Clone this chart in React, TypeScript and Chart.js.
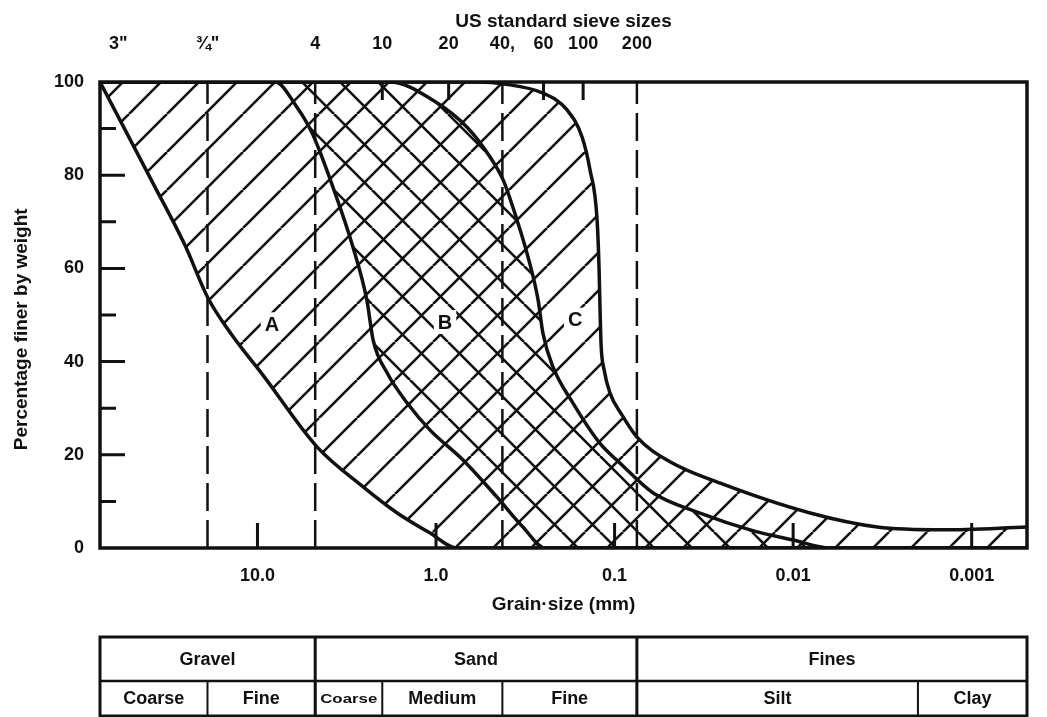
import { useEffect, useRef } from 'react';
import { Chart, registerables } from 'chart.js';

Chart.register(...registerables);

const FONT = '"Liberation Sans", Arial, Helvetica, sans-serif';
const INK = '#111111';

// grain size axis range (mm): left edge = 3 in sieve, right edge
const SIZE_MAX = 76.2;
const SIZE_MIN = 0.00049;

// bottom axis ticks
const gradeTickValues = [0.001, 0.01, 0.1, 1, 10];
const gradeTickLabels = ['0.001', '0.01', '0.1', '1.0', '10.0'];

// top axis: US standard sieve sizes (mm)
const sieveTickValues = [SIZE_MIN, 0.075, 0.15, 0.25, 0.425, 0.85, 2.0, 4.75, 19.05, 76.2];
const sieveTickLabels = ['', '200', '100', '60', '40,', '20', '10', '4', '¾"', '\u20023"'];
const sieveMinorMarks = [0.15, 0.25, 0.85, 2.0];
const dashedSieveSizes = [19.05, 4.75, 0.425, 0.075];

// percent axis
const percentMajorTicks = [20, 40, 60, 80];
const percentMinorTicks = [10, 30, 50, 70, 90];

// band A, coarse boundary
const curveALeftSize = [76.2, 38.5, 25.5, 18.9, 13.9, 9.32, 4.64, 2.56, 1.65, 1.08, 0.763, SIZE_MIN];
const curveALeftPct = [100, 78.3, 65.0, 53.6, 45.7, 37.1, 21.7, 13.1, 7.5, 3.2, 0, 0];

// band B, coarse boundary
const curveBLeftSize = [76.2, 7.98, 6.01, 4.95, 3.68, 2.92, 2.44, 2.25, 1.88, 1.45, 1.08, 0.706, 0.455, 0.326, 0.245, SIZE_MIN];
const curveBLeftPct = [100, 100, 94.6, 89.1, 76.2, 64.6, 53.2, 44.6, 37.6, 31.1, 25.3, 18.9, 10.9, 4.5, 0, 0];

// band B, fine boundary
const curveBRightSize = [76.2, 1.81, 1.04, 0.67, 0.498, 0.421, 0.352, 0.305, 0.268, 0.252, 0.221, 0.171, 0.121, 0.0931, 0.0608, 0.0332, 0.0174, 0.01, 0.0062, SIZE_MIN];
const curveBRightPct = [100, 100, 96.1, 90.3, 83.9, 79.0, 70.4, 62.4, 53.2, 46.1, 38.8, 31.1, 22.5, 18.2, 11.8, 7.5, 3.9, 1.7, 0, 0];

// band C, fine boundary
const curveCRightSize = [76.2, 0.567, 0.421, 0.2516, 0.1845, 0.1521, 0.1372, 0.1253, 0.1221, 0.1206, 0.119, 0.1144, 0.1062, 0.0908, 0.0749, 0.0489, 0.0256, 0.00803, 0.00338, 0.00144, SIZE_MIN];
const curveCRightPct = [100, 100, 99.6, 97.6, 94.0, 88.2, 81.1, 70.4, 59.7, 51.1, 43.6, 38.2, 33.3, 28.5, 23.8, 18.5, 13.9, 7.5, 4.5, 3.9, 4.5];

// band labels
const bandLabels = ['A', 'B', 'C'];
const bandLabelSize = [8.3, 0.89, 0.166];
const bandLabelPct = [48, 48.5, 49];

// classification table
const soilGroups = ['Gravel', 'Sand', 'Fines'];
const soilGroupBounds = [SIZE_MAX, 4.75, 0.075, SIZE_MIN];
const soilClasses = ['Coarse', 'Fine', 'Coarse', 'Medium', 'Fine', 'Silt', 'Clay'];
const soilClassBounds = [SIZE_MAX, 19.05, 4.75, 2.0, 0.425, 0.075, 0.002, SIZE_MIN];

const TABLE_TOP = 637;
const TABLE_MID = 681;
const TABLE_BOTTOM = 716;

const toPoints = (xs: number[], ys: number[]) => xs.map((x, i) => ({ x, y: ys[i] }));

function makeHatch(ctx: CanvasRenderingContext2D, size: number, dir: '/' | '\\', offset: number, lw: number) {
  const c = document.createElement('canvas');
  c.width = size;
  c.height = size;
  const g = c.getContext('2d')!;
  g.strokeStyle = INK;
  g.lineWidth = lw;
  g.beginPath();
  for (const k of [-1, 0, 1]) {
    if (dir === '/') {
      g.moveTo(k * size, size);
      g.lineTo(k * size + size, 0);
    } else {
      g.moveTo(k * size, 0);
      g.lineTo(k * size + size, size);
    }
  }
  g.stroke();
  const p = ctx.createPattern(c, 'repeat')!;
  p.setTransform(new DOMMatrix().translateSelf(offset, 0));
  return p;
}

const decorPlugin = {
  id: 'decor',
  afterDatasetsDraw(chart: any) {
    const { ctx, chartArea: ca, scales } = chart;
    const xs = scales.x;
    const ys = scales.y;
    ctx.save();
    // band labels with white backing
    ctx.font = `bold 20px ${FONT}`;
    ctx.textAlign = 'center';
    ctx.textBaseline = 'middle';
    bandLabels.forEach((t, i) => {
      const px = xs.getPixelForValue(bandLabelSize[i]);
      const py = ys.getPixelForValue(bandLabelPct[i]);
      const w = ctx.measureText(t).width + 8;
      ctx.fillStyle = '#fff';
      ctx.fillRect(px - w / 2, py - 12, w, 24);
      ctx.fillStyle = INK;
      ctx.fillText(t, px, py + 1);
    });
    // frame
    ctx.strokeStyle = INK;
    ctx.lineWidth = 3.5;
    ctx.strokeRect(ca.left, ca.top, ca.right - ca.left, ca.bottom - ca.top);
    // inward ticks
    ctx.lineWidth = 3;
    ctx.beginPath();
    percentMajorTicks.forEach((v) => {
      const py = ys.getPixelForValue(v);
      ctx.moveTo(ca.left, py);
      ctx.lineTo(ca.left + 25, py);
    });
    percentMinorTicks.forEach((v) => {
      const py = ys.getPixelForValue(v);
      ctx.moveTo(ca.left, py);
      ctx.lineTo(ca.left + 16, py);
    });
    gradeTickValues.forEach((v) => {
      const px = xs.getPixelForValue(v);
      ctx.moveTo(px, ca.bottom);
      ctx.lineTo(px, ca.bottom - 25);
    });
    sieveMinorMarks.forEach((v) => {
      const px = xs.getPixelForValue(v);
      ctx.moveTo(px, ca.top);
      ctx.lineTo(px, ca.top + 18);
    });
    ctx.stroke();
    ctx.restore();
  },
  afterDraw(chart: any) {
    const { ctx, scales } = chart;
    const xs = scales.x;
    const px = (v: number) => xs.getPixelForValue(v);
    ctx.save();
    ctx.strokeStyle = INK;
    ctx.fillStyle = INK;
    const left = px(SIZE_MAX);
    const right = px(SIZE_MIN);
    ctx.lineWidth = 2.5;
    ctx.beginPath();
    ctx.moveTo(left, TABLE_MID);
    ctx.lineTo(right, TABLE_MID);
    ctx.stroke();
    ctx.lineWidth = 2;
    ctx.beginPath();
    soilClassBounds.slice(1, -1).forEach((b) => {
      ctx.moveTo(px(b), TABLE_MID);
      ctx.lineTo(px(b), TABLE_BOTTOM);
    });
    ctx.stroke();
    ctx.lineWidth = 3;
    ctx.beginPath();
    soilGroupBounds.slice(1, -1).forEach((b) => {
      ctx.moveTo(px(b), TABLE_TOP);
      ctx.lineTo(px(b), TABLE_BOTTOM);
    });
    ctx.stroke();
    ctx.strokeRect(left, TABLE_TOP, right - left, TABLE_BOTTOM - TABLE_TOP);
    ctx.textAlign = 'center';
    ctx.textBaseline = 'middle';
    ctx.font = `bold 18px ${FONT}`;
    soilGroups.forEach((t, i) => {
      const cx = (px(soilGroupBounds[i]) + px(soilGroupBounds[i + 1])) / 2;
      ctx.fillText(t, cx, (TABLE_TOP + TABLE_MID) / 2 + 1);
    });
    soilClasses.forEach((t, i) => {
      const a = px(soilClassBounds[i]);
      const b = px(soilClassBounds[i + 1]);
      const cx = (a + b) / 2;
      const cy = (TABLE_MID + TABLE_BOTTOM) / 2 + 1;
      ctx.font = `bold 18px ${FONT}`;
      const w = ctx.measureText(t).width;
      if (w > b - a - 10) {
        ctx.font = `bold 13px ${FONT}`;
        const w2 = ctx.measureText(t).width;
        const sx = (b - a - 10) / w2;
        ctx.save();
        ctx.translate(cx, cy);
        ctx.scale(sx, 1);
        ctx.fillText(t, 0, 0);
        ctx.restore();
      } else {
        ctx.fillText(t, cx, cy);
      }
    });
    ctx.restore();
  },
};

export default function App() {
  const ref = useRef<HTMLCanvasElement | null>(null);

  useEffect(() => {
    const canvas = ref.current!;
    const ctx = canvas.getContext('2d')!;
    const hatchFwd = makeHatch(ctx, 38, '/', 15, 2.6);
    const hatchBack = makeHatch(ctx, 38, '\\', 30, 2.6);

    const curve = (data: any[], extra: any = {}) => ({
      data,
      borderColor: INK,
      borderWidth: 3.5,
      pointRadius: 0,
      cubicInterpolationMode: 'monotone',
      fill: false,
      ...extra,
    });
    const dashed = (v: number) => ({
      data: [{ x: v, y: 0 }, { x: v, y: 100 }],
      borderColor: INK,
      borderWidth: 2.5,
      borderDash: [28, 9],
      pointRadius: 0,
      fill: false,
    });

    const tickFont = { family: FONT, size: 18, weight: 'bold' };
    const titleFont = { family: FONT, size: 19, weight: 'bold' };

    const chart = new Chart(canvas, {
      type: 'line',
      data: {
        datasets: [
          curve(toPoints(curveALeftSize, curveALeftPct), { label: 'A coarse', fill: { target: 3 }, backgroundColor: hatchFwd }),
          curve(toPoints(curveBLeftSize, curveBLeftPct), { label: 'B coarse', fill: { target: 2 }, backgroundColor: hatchBack }),
          curve(toPoints(curveBRightSize, curveBRightPct), { label: 'B fine' }),
          curve(toPoints(curveCRightSize, curveCRightPct), { label: 'C fine' }),
          ...dashedSieveSizes.map(dashed),
        ] as any,
      },
      options: {
        responsive: false,
        animation: false,
        events: [],
        layout: { padding: { left: 0, right: 20, top: 0, bottom: 0 } },
        plugins: { legend: { display: false }, tooltip: { enabled: false } },
        scales: {
          x: {
            type: 'logarithmic',
            position: 'bottom',
            reverse: true,
            min: SIZE_MIN,
            max: SIZE_MAX,
            grid: { display: false },
            border: { display: false },
            afterBuildTicks: (s: any) => {
              s.ticks = gradeTickValues.map((v) => ({ value: v }));
            },
            ticks: {
              autoSkip: false,
              maxRotation: 0,
              padding: 9,
              color: INK,
              font: tickFont,
              callback: (_v: any, i: number) => gradeTickLabels[i],
            },
            title: {
              display: true,
              text: 'Grain·size (mm)',
              color: INK,
              font: titleFont,
              padding: { top: 0, bottom: 101 },
            },
            afterFit: (s: any) => {
              s.height = 169;
            },
          },
          xTop: {
            type: 'logarithmic',
            position: 'top',
            reverse: true,
            min: SIZE_MIN,
            max: SIZE_MAX,
            grid: { display: false },
            border: { display: false },
            afterBuildTicks: (s: any) => {
              s.ticks = sieveTickValues.map((v) => ({ value: v }));
            },
            ticks: {
              autoSkip: false,
              maxRotation: 0,
              align: 'inner',
              padding: 19,
              color: INK,
              font: tickFont,
              callback: (_v: any, i: number) => sieveTickLabels[i],
            },
            title: {
              display: true,
              text: 'US standard sieve sizes',
              color: INK,
              font: titleFont,
              padding: { top: 10, bottom: 0 },
            },
            afterFit: (s: any) => {
              s.height = 82;
            },
          },
          y: {
            type: 'linear',
            min: 0,
            max: 100,
            grid: { display: false },
            border: { display: false },
            ticks: {
              stepSize: 20,
              padding: 8,
              color: INK,
              font: tickFont,
            },
            title: {
              display: true,
              text: 'Percentage finer by weight\u2002\u2002\u2002',
              color: INK,
              font: titleFont,
              padding: { top: 10, bottom: 0 },
            },
            afterFit: (s: any) => {
              s.width = 100;
            },
          },
        },
      } as any,
      plugins: [decorPlugin],
    });
    return () => chart.destroy();
  }, []);

  return (
    <div style={{ position: 'absolute', left: 0, top: 0, width: 1047, height: 717, background: '#fff' }}>
      <canvas ref={ref} width={1047} height={717} />
    </div>
  );
}
